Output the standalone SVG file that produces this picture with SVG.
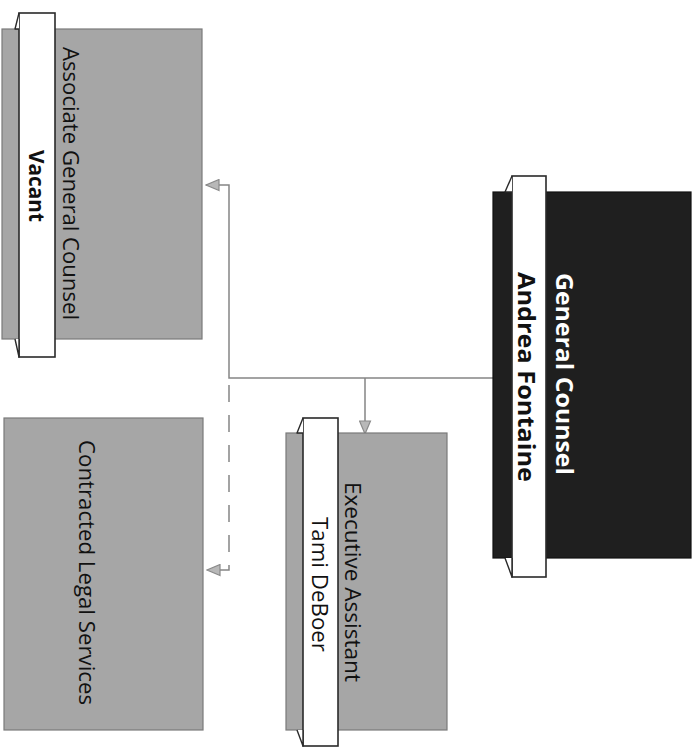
<svg xmlns="http://www.w3.org/2000/svg" width="697" height="747" viewBox="0 0 697 747">
<style>
.box{fill:#a6a6a6;stroke:#7a7a7a;stroke-width:1.2}
.dark{fill:#1f1f1f;stroke:#111;stroke-width:1.2}
.tab{fill:#ffffff;stroke:#2a2a2a;stroke-width:1.6}
.fold{fill:#ffffff;stroke:#2a2a2a;stroke-width:1.4;stroke-linejoin:round}
.conn{fill:none;stroke:#858585;stroke-width:1.5}
.t{font-family:"Open Sans","Liberation Sans",sans-serif;text-anchor:middle;dominant-baseline:central}
.title{font-size:21px;fill:#111;font-weight:500}
.name{font-size:21px;fill:#111;font-weight:bold}
</style>
<defs>
<marker id="arr" viewBox="0 0 15 13" refX="14" refY="6.5" markerWidth="15" markerHeight="13" orient="auto" markerUnits="userSpaceOnUse">
<path d="M1,1 L14,6.5 L1,12 Z" fill="#b8b8b8" stroke="#8a8a8a" stroke-width="1.2"/>
</marker>
</defs>
<rect width="697" height="747" fill="#ffffff"/>

<g id="connectors">
<path class="conn" d="M493 378 H229 V185 H206" marker-end="url(#arr)"/>
<path class="conn" d="M365 378 V434" marker-end="url(#arr)"/>
<path class="conn" d="M229 385 V570 H207" stroke-dasharray="17 13" marker-end="url(#arr)"/>
</g>

<g id="associate-general-counsel">
<rect class="box" x="2" y="29" width="200" height="310"/>
<rect class="tab" x="19" y="13" width="36" height="344"/>
<path class="fold" d="M19 13 L15 29 L19 29"/>
<path class="fold" d="M15 339 L19 357 L19 339"/>
<text class="t title" transform="translate(71 183.5) rotate(90)" textLength="273" lengthAdjust="spacingAndGlyphs">Associate General Counsel</text>
<text class="t name" transform="translate(37 186) rotate(90)" textLength="72" lengthAdjust="spacingAndGlyphs">Vacant</text>
</g>

<g id="general-counsel">
<rect class="dark" x="493" y="192" width="198" height="366"/>
<rect class="tab" x="512" y="176" width="34" height="401"/>
<path class="fold" d="M512 176 L505 192 L512 192"/>
<path class="fold" d="M505 558 L512 577 L512 558"/>
<text class="t" transform="translate(565 374) rotate(90)" font-size="23" font-weight="bold" fill="#ffffff" textLength="202" lengthAdjust="spacingAndGlyphs">General Counsel</text>
<text class="t" transform="translate(527 377) rotate(90)" font-size="23" font-weight="bold" fill="#111" textLength="210" lengthAdjust="spacingAndGlyphs">Andrea Fontaine</text>
</g>

<g id="executive-assistant">
<rect class="box" x="286" y="433" width="161" height="297"/>
<rect class="tab" x="303" y="418" width="35" height="328"/>
<path class="fold" d="M303 418 L297 433 L303 433"/>
<path class="fold" d="M297 730 L303 746 L303 730"/>
<text class="t title" transform="translate(353 582) rotate(90)" textLength="200" lengthAdjust="spacingAndGlyphs">Executive Assistant</text>
<text class="t title" transform="translate(320 584.5) rotate(90)" font-weight="600" textLength="135" lengthAdjust="spacingAndGlyphs">Tami DeBoer</text>
</g>

<g id="contracted-legal-services">
<rect class="box" x="4" y="418" width="199" height="312"/>
<text class="t title" transform="translate(87 572.5) rotate(90)" textLength="265" lengthAdjust="spacingAndGlyphs">Contracted Legal Services</text>
</g>
</svg>
